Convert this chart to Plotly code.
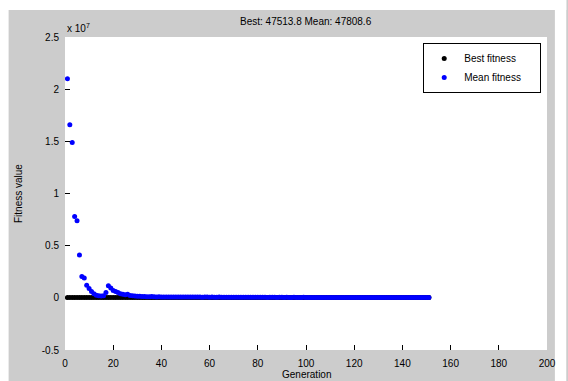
import plotly.graph_objects as go

# Generations 1..151, fitness values in units of 1e7
generations = list(range(1, 152))

mean_fitness_e7 = [
    2.10, 1.66, 1.49, 0.78, 0.74, 0.41, 0.205, 0.19, 0.12, 0.09,
    0.06, 0.04, 0.025, 0.02, 0.018, 0.02, 0.05, 0.115, 0.095, 0.07,
    0.06, 0.05, 0.04, 0.035, 0.03, 0.035, 0.022, 0.02, 0.018, 0.015,
    0.014, 0.012, 0.013, 0.011, 0.010, 0.012, 0.010, 0.009, 0.010, 0.009,
    0.008, 0.009, 0.008, 0.008, 0.009, 0.008, 0.007, 0.008, 0.008, 0.007,
    0.008, 0.007, 0.007, 0.008, 0.007, 0.007, 0.006, 0.007, 0.007, 0.006,
    0.007, 0.006, 0.006, 0.007, 0.006, 0.006, 0.006, 0.005, 0.006, 0.006,
    0.005, 0.006, 0.005, 0.005, 0.006, 0.005, 0.005, 0.005, 0.005, 0.006,
    0.005, 0.005, 0.005, 0.004, 0.005, 0.005, 0.005, 0.004, 0.005, 0.005,
    0.004, 0.005, 0.004, 0.004, 0.005, 0.004, 0.004, 0.004, 0.005, 0.004,
    0.004, 0.004, 0.004, 0.004, 0.004, 0.003, 0.004, 0.004, 0.004, 0.003,
    0.004, 0.004, 0.003, 0.004, 0.003, 0.003, 0.004, 0.003, 0.003, 0.003,
    0.004, 0.003, 0.003, 0.003, 0.003, 0.003, 0.003, 0.003, 0.003, 0.003,
    0.003, 0.003, 0.003, 0.003, 0.003, 0.003, 0.003, 0.003, 0.003, 0.003,
    0.003, 0.003, 0.003, 0.003, 0.003, 0.003, 0.003, 0.003, 0.003, 0.003,
    0.003,
]

best_fitness_e7 = [
    0.002, 0.002, 0.002, 0.002, 0.002, 0.002, 0.002, 0.002, 0.002, 0.002,
    0.002, 0.002, 0.002, 0.002, 0.002, 0.002, 0.002, 0.002, 0.002, 0.002,
    0.002, 0.002, 0.002, 0.002, 0.002, 0.002, 0.002, 0.002, 0.002, 0.002,
    0.002, 0.002, 0.002, 0.002, 0.002, 0.002, 0.002, 0.002, 0.002, 0.002,
    0.002, 0.002, 0.002, 0.002, 0.002, 0.002, 0.002, 0.002, 0.002, 0.002,
    0.002, 0.002, 0.002, 0.002, 0.002, 0.002, 0.002, 0.002, 0.002, 0.002,
    0.002, 0.002, 0.002, 0.002, 0.002, 0.002, 0.002, 0.002, 0.002, 0.002,
    0.002, 0.002, 0.002, 0.002, 0.002, 0.002, 0.002, 0.002, 0.002, 0.002,
    0.002, 0.002, 0.002, 0.002, 0.002, 0.002, 0.002, 0.002, 0.002, 0.002,
    0.002, 0.002, 0.002, 0.002, 0.002, 0.002, 0.002, 0.002, 0.002, 0.002,
    0.002, 0.002, 0.002, 0.002, 0.002, 0.002, 0.002, 0.002, 0.002, 0.002,
    0.002, 0.002, 0.002, 0.002, 0.002, 0.002, 0.002, 0.002, 0.002, 0.002,
    0.002, 0.002, 0.002, 0.002, 0.002, 0.002, 0.002, 0.002, 0.002, 0.002,
    0.002, 0.002, 0.002, 0.002, 0.002, 0.002, 0.002, 0.002, 0.002, 0.002,
    0.002, 0.002, 0.002, 0.002, 0.002, 0.002, 0.002, 0.002, 0.002, 0.002,
    0.002,
]

y_tickvals = [-0.5, 0, 0.5, 1, 1.5, 2, 2.5]
y_ticktext = ["-0.5", "0", "0.5", "1", "1.5", "2", "2.5"]
x_tickvals = [0, 20, 40, 60, 80, 100, 120, 140, 160, 180, 200]
x_ticktext = ["0", "20", "40", "60", "80", "100", "120", "140", "160", "180", "200"]

series_names = ["Best fitness", "Mean fitness"]
title_text = "Best: 47513.8 Mean: 47808.6"
x_label = "Generation"
y_label = "Fitness value"

FONT = "Liberation Sans, Arial, sans-serif"
PAD = "&nbsp;" * 5

fig = go.Figure()
fig.add_trace(go.Scatter(
    x=generations, y=best_fitness_e7, mode="markers", name=series_names[0] + PAD,
    marker=dict(color="black", size=5, line=dict(width=0)),
))
fig.add_trace(go.Scatter(
    x=generations, y=mean_fitness_e7, mode="markers", name=series_names[1] + PAD,
    marker=dict(color="#0000ff", size=5, line=dict(width=0)),
))

fig.update_layout(
    width=568, height=381, autosize=False,
    margin=dict(l=65, r=16, t=37, b=30, pad=0),
    paper_bgcolor="#cccccc", plot_bgcolor="white",
    font=dict(family=FONT, size=10, color="black"),
    showlegend=True,
    legend=dict(
        x=0.988, y=0.981, xanchor="right", yanchor="top",
        bgcolor="white", bordercolor="black", borderwidth=1,
        font=dict(size=10), itemsizing="trace", tracegroupgap=0,
    ),
    xaxis=dict(
        range=[0, 200], tickvals=x_tickvals, ticktext=x_ticktext,
        ticks="inside", ticklen=5, tickcolor="black", showgrid=False,
        zeroline=False, showline=False, tickfont=dict(size=10),
        ticklabelstandoff=6,
    ),
    yaxis=dict(
        range=[-0.5, 2.5], tickvals=y_tickvals, ticktext=y_ticktext,
        ticks="inside", ticklen=5, tickcolor="black", showgrid=False,
        zeroline=False, showline=False, tickfont=dict(size=10),
        ticklabelstandoff=5,
    ),
    shapes=[
        dict(type="rect", xref="paper", yref="paper", x0=-0.14, x1=-0.117,
             y0=-0.2, y1=1.2, fillcolor="white", line=dict(width=0), layer="below"),
        dict(type="rect", xref="paper", yref="paper", x0=-0.14, x1=1.04,
             y0=1.086, y1=1.2, fillcolor="white", line=dict(width=0), layer="below"),
        dict(type="rect", xref="paper", yref="paper", x0=1.0164, x1=1.04,
             y0=-0.2, y1=1.2, fillcolor="white", line=dict(width=0), layer="below"),
    ],
    annotations=[
        dict(text=title_text, xref="paper", yref="paper", x=0.5, y=1.051,
             xanchor="center", yanchor="middle", showarrow=False, font=dict(size=10)),
        dict(text="x 10<sup>7</sup>", xref="paper", yref="paper", x=0.0, y=1.029,
             xanchor="left", yanchor="middle", showarrow=False, font=dict(size=10)),
        dict(text=y_label, xref="paper", yref="paper", x=-0.0965, y=0.5,
             xanchor="center", yanchor="middle", textangle=-90, showarrow=False,
             font=dict(size=10)),
        dict(text=x_label, xref="paper", yref="paper", x=0.5, y=-0.078,
             xanchor="center", yanchor="middle", showarrow=False, font=dict(size=10)),
    ],
)

fig.write_html("out.html")
